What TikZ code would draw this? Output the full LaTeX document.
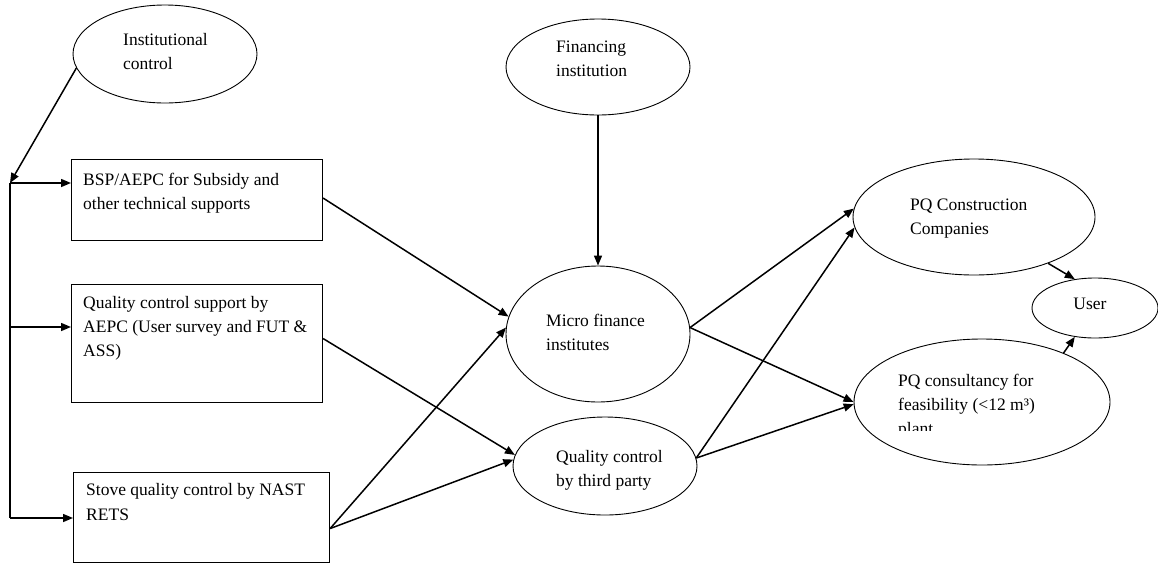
\documentclass[tikz,border=0pt]{standalone}
\usepackage{fontspec}
\setmainfont{Liberation Serif}
\usetikzlibrary{arrows.meta,shapes.geometric}
\begin{document}
\begin{tikzpicture}[x=1pt,y=-1pt,
  oval/.style={draw, ellipse, line width=0.9pt, inner sep=0pt},
  boxnode/.style={draw, rectangle, line width=1.1pt, inner sep=0pt, anchor=north west},
  txt/.style={anchor=base west, inner sep=0pt, font=\fontsize{17.5}{24}\selectfont},
  link/.style={line width=1.5pt, -{Triangle[length=10pt,width=8pt]}},
  bus/.style={line width=1.3pt}]
\useasboundingbox (0,0) rectangle (1158,563);

% ellipses
\node[oval, minimum width=184pt, minimum height=98pt]  (inst)  at (165,54)  {};
\node[oval, minimum width=184pt, minimum height=96pt]  (fin)   at (598,67)  {};
\node[oval, minimum width=184pt, minimum height=136pt] (micro) at (598,334) {};
\node[oval, minimum width=184pt, minimum height=98pt]  (third) at (605,466) {};
\node[oval, minimum width=242pt, minimum height=116pt] (pqc)   at (974,217) {};
\node[oval, minimum width=126pt, minimum height=60pt]  (user)  at (1095,308) {};
\node[oval, minimum width=256pt, minimum height=126pt] (cons)  at (982,402) {};

% boxes
\node[boxnode, minimum width=251pt, minimum height=81pt]  (box1) at (71,159) {};
\node[boxnode, minimum width=251pt, minimum height=118pt] (box2) at (71,284) {};
\node[boxnode, minimum width=256pt, minimum height=90pt]  (box3) at (73,472) {};

% labels
\node[txt] (inst1) at (123,45) {Institutional};
\node[txt] (inst2) at (123,69) {control};
\node[txt] (fin1) at (556,52) {Financing};
\node[txt] (fin2) at (556,76) {institution};
\node[txt] (b1a) at (83,185) {BSP/AEPC for Subsidy and};
\node[txt] (b1b) at (83,209) {other technical supports};
\node[txt] (b2a) at (83,308) {Quality control support by};
\node[txt] (b2b) at (83,332) {AEPC (User survey and FUT \&};
\node[txt] (b2c) at (83,356) {ASS)};
\node[txt] (b3a) at (86,495) {Stove quality control by NAST};
\node[txt] (b3b) at (86,520) {RETS};
\node[txt] (m1) at (546,326) {Micro finance};
\node[txt] (m2) at (546,350) {institutes};
\node[txt] (q1) at (556,462) {Quality control};
\node[txt] (q2) at (556,486) {by third party};
\node[txt] (p1) at (910,210) {PQ Construction};
\node[txt] (p2) at (910,234) {Companies};
\node[txt, anchor=base] (u1) at (1090,309) {User};
\node[txt] (c1) at (898,386) {PQ consultancy for};
\node[txt] (c2) at (898,410) {feasibility (<12 m³)};
\begin{scope}
  \clip (850,330) rectangle (1110,430);
  \node[txt] (c3) at (898,434) {plant};
\end{scope}

% left distribution bus
\coordinate (bustop) at (10,183);
\coordinate (busmid) at (10,327);
\coordinate (busend) at (10,518);
\draw[link] (inst.189) -- (bustop);
\draw[bus] (bustop) -- (busend);
\draw[link] (bustop) -- (bustop -| box1.west);
\draw[link] (busmid) -- (busmid -| box2.west);
\draw[link] (busend) -- (busend -| box3.west);

% flows
\draw[link] (fin.south) -- (micro.north);
\draw[link] ([yshift=2pt]box1.east) -- (micro.169);
\draw[link] ([yshift=5pt]box2.east) -- (third.173);
\draw[link] ([yshift=-11pt]box3.east) -- (micro.176);
\draw[link] ([yshift=-11pt]box3.east) -- (third.176);
\draw[link] (micro.4) -- (pqc.176);
\draw[link] (micro.4) -- (cons.180);
\draw[link] (third.5) -- (pqc.185);
\draw[link] (third.5) -- (cons.181);
\draw[link] (pqc.-32) -- (user.125);
\draw[link] (cons.31) -- (user.235);
\end{tikzpicture}
\end{document}
